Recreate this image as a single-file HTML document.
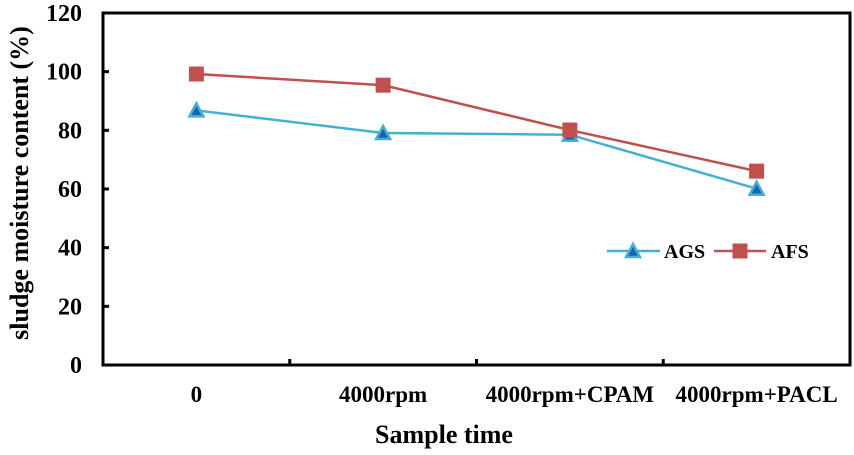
<!DOCTYPE html>
<html><head><meta charset="utf-8"><style>
body{margin:0;background:#fff}
svg text{font-family:"Liberation Serif",serif;font-weight:bold;fill:#000}
</style></head><body>
<svg id="chart" width="854" height="450"></svg>
<script>
const categories=["0","4000rpm","4000rpm+CPAM","4000rpm+PACL"];
const agsValues=[86.8,79.1,78.5,60.1];
const afsValues=[99.2,95.4,80.1,66.1];
const yTicks=[0,20,40,60,80,100,120];
const L=103,R=850,T=13,B=365,yMax=120;
const svg=document.getElementById('chart');
const NS='http://www.w3.org/2000/svg';
function y(v){return B-(v/yMax)*(B-T);}
function x(i){const w=(R-L)/categories.length;return L+w*(i+0.5);}
function mk(tag,a,p){const e=document.createElementNS(NS,tag);for(const k in a)e.setAttribute(k,a[k]);(p||svg).appendChild(e);return e;}
const frame=mk('rect',{x:L,y:T,width:R-L,height:B-T,fill:'none',stroke:'#000','stroke-width':3});


yTicks.forEach(v=>{
 const t=mk('line',{x1:L,x2:L+6,y1:y(v),y2:y(v),stroke:'#000','stroke-width':3});
 
 
 const l=mk('text',{x:L-21,y:y(v)+8,'text-anchor':'end','font-size':24});
 l.textContent=v;
 
 
});
for(let i=1;i<categories.length;i++){
 const xb=L+(R-L)/categories.length*i;
 const t=mk('line',{x1:xb,x2:xb,y1:B,y2:B-6,stroke:'#000','stroke-width':3});
 
 
}
categories.forEach((c,i)=>{
 const l=mk('text',{x:x(i),y:402,'text-anchor':'middle','font-size':23});
 l.textContent=c;
 
 
});
const xt=mk('text',{x:444,y:443,'text-anchor':'middle','font-size':26});
xt.textContent='Sample time';


const yt=mk('text',{x:0,y:0,'text-anchor':'middle','font-size':26,transform:'translate(28,183) rotate(-90)'});
yt.textContent='sludge moisture content (%)';


function tri(cx,cy,p){return mk('polygon',{points:`${cx},${cy-7} ${cx-7},${cy+6} ${cx+7},${cy+6}`,fill:'#1f5fb0',stroke:'#45b0d0','stroke-width':2.5},p);}
function sq(cx,cy,p){return mk('rect',{x:cx-7.5,y:cy-7.5,width:15,height:15,fill:'#c0504d'},p);}
function series(vals,color,name,marker){
 const pts=vals.map((v,i)=>x(i)+','+y(v)).join(' ');
 const pl=mk('polyline',{points:pts,fill:'none',stroke:color,'stroke-width':2.5});
 
 
 vals.forEach((v,i)=>{
  const m=marker(x(i),y(v));
  
  
 });
}
series(agsValues,'#45b0d0','ags',tri);
series(afsValues,'#c0504d','afs',sq);
const lg=mk('g',{});


const e1=mk('g',{},lg);


mk('line',{x1:607,x2:660,y1:251,y2:251,stroke:'#45b0d0','stroke-width':2.5},e1);
tri(633,251,e1);
const t1=mk('text',{x:664,y:258,'font-size':20},e1);t1.textContent='AGS';
const e2=mk('g',{},lg);


mk('line',{x1:714,x2:766,y1:251,y2:251,stroke:'#c0504d','stroke-width':2.5},e2);
sq(740,251,e2);
const t2=mk('text',{x:771,y:258,'font-size':20},e2);t2.textContent='AFS';
</script>
</body></html>
